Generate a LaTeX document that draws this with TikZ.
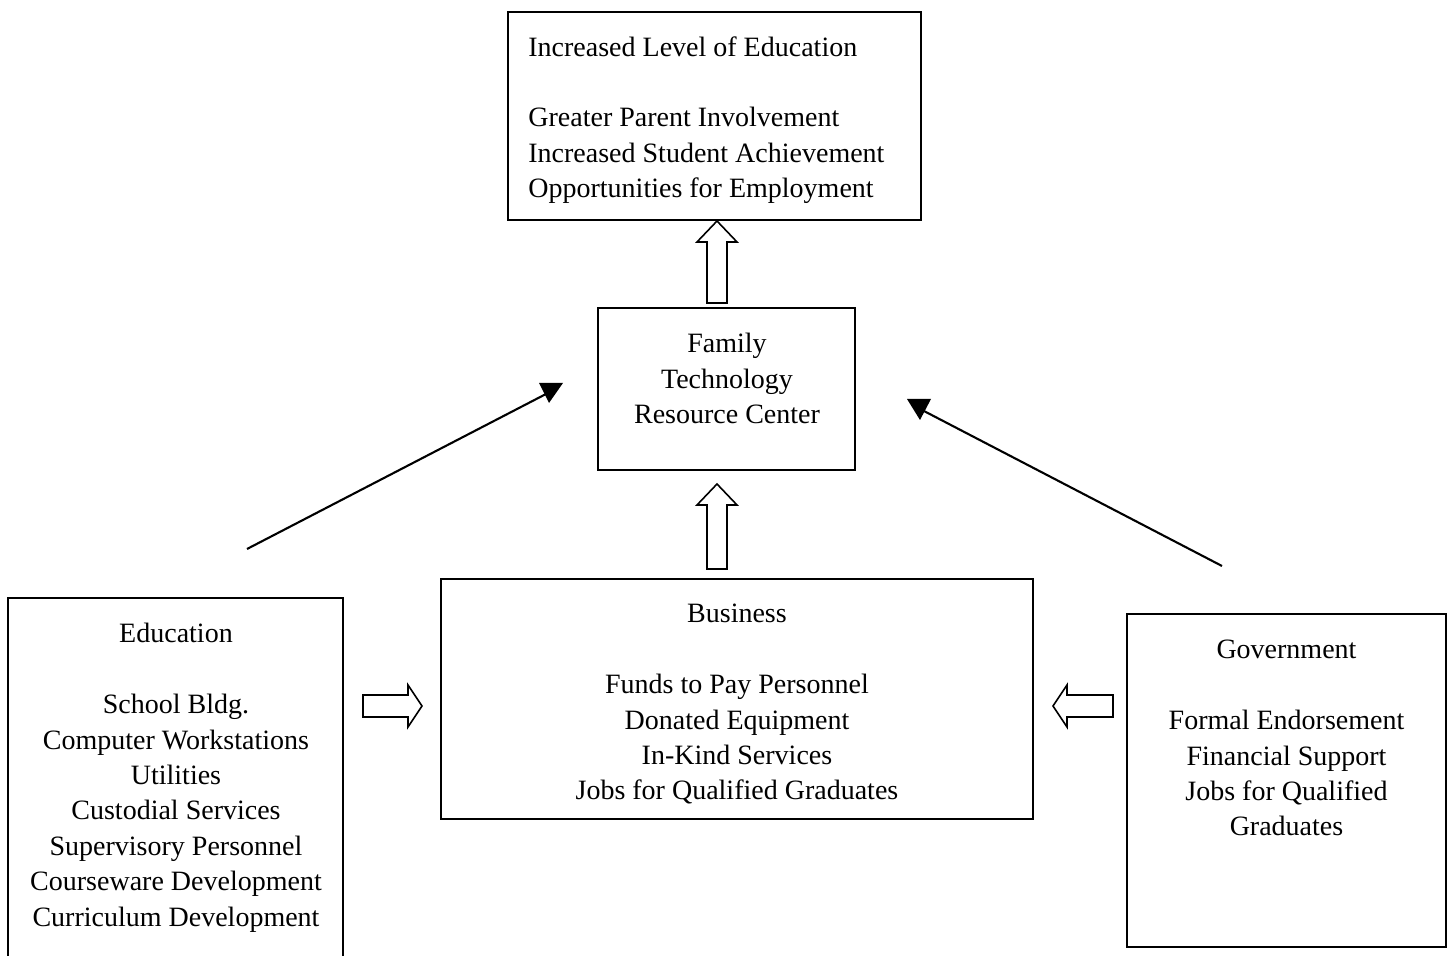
\documentclass[tikz,border=0pt]{standalone}
\usepackage{fontspec}
\setmainfont{Liberation Serif}
\begin{document}
\begin{tikzpicture}[x=0.5pt,y=-0.5pt,
  box/.style={draw,line width=0.95pt,inner sep=0pt},
  txt/.style={inner sep=0pt,font=\fontsize{14}{17.7}\selectfont},
  blockarrow/.style={draw,line width=0.8pt,fill=white,line join=miter},
  conn/.style={line width=1.05pt},
  tipfill/.style={fill=black}]
\useasboundingbox (0,0) rectangle (1448,956);
% boxes
\node[box,minimum width=206.5pt,minimum height=104pt] (top) at (714.5,116) {};
\node[box,minimum width=128.5pt,minimum height=81pt] (frc) at (726.5,389) {};
\node[box,minimum width=296pt,minimum height=120pt] (bus) at (737,699) {};
\node[box,minimum width=167.5pt,minimum height=186pt] (edu) at (175.5,784) {};
\node[box,minimum width=159.5pt,minimum height=166.5pt] (gov) at (1286.5,780.5) {};
% texts
\node[txt,anchor=north west,align=left] (toptxt) at (528,36) {Increased Level of Education\\[17.7pt]Greater Parent Involvement\\Increased Student Achievement\\Opportunities for Employment};
\node[txt,anchor=north,align=center] (frctxt) at (727,333) {Family\\Technology\\Resource Center};
\node[txt,anchor=north,align=center] (bustxt) at (737,604) {Business\\[17.7pt]Funds to Pay Personnel\\Donated Equipment\\In-Kind Services\\Jobs for Qualified Graduates};
\node[txt,anchor=north,align=center] (edutxt) at (176,623) {Education\\[17.7pt]School Bldg.\\Computer Workstations\\Utilities\\Custodial Services\\Supervisory Personnel\\Courseware Development\\Curriculum Development};
\node[txt,anchor=north,align=center] (govtxt) at (1286.5,640) {Government\\[17.7pt]Formal Endorsement\\Financial Support\\Jobs for Qualified\\Graduates};
% block arrows
\coordinate (up1) at (717,221);
\draw[blockarrow] (up1) -- ++(20,21) -- ++(-10,0) -- ++(0,61) -- ++(-20,0) -- ++(0,-61) -- ++(-10,0) -- cycle;
\coordinate (up2) at (717,484);
\draw[blockarrow] (up2) -- ++(20,21) -- ++(-10,0) -- ++(0,64) -- ++(-20,0) -- ++(0,-64) -- ++(-10,0) -- cycle;
\coordinate (rt) at (422,706);
\draw[blockarrow] (rt) -- ++(-14,21) -- ++(0,-10) -- ++(-45,0) -- ++(0,-22) -- ++(45,0) -- ++(0,-10) -- cycle;
\coordinate (lt) at (1053,706);
\draw[blockarrow] (lt) -- ++(14,21) -- ++(0,-10) -- ++(46,0) -- ++(0,-22) -- ++(-46,0) -- ++(0,-10) -- cycle;
% line arrows
\coordinate (edustart) at (247,549);
\coordinate (eduend) at (546,394);
\draw[conn] (edustart) -- (eduend);
\fill[tipfill] (539,383) -- (563,383) -- (549,403) -- cycle;
\coordinate (govstart) at (1222,566);
\coordinate (govend) at (922,410);
\draw[conn] (govstart) -- (govend);
\fill[tipfill] (907,399) -- (931,399) -- (920,420) -- cycle;
\end{tikzpicture}
\end{document}
